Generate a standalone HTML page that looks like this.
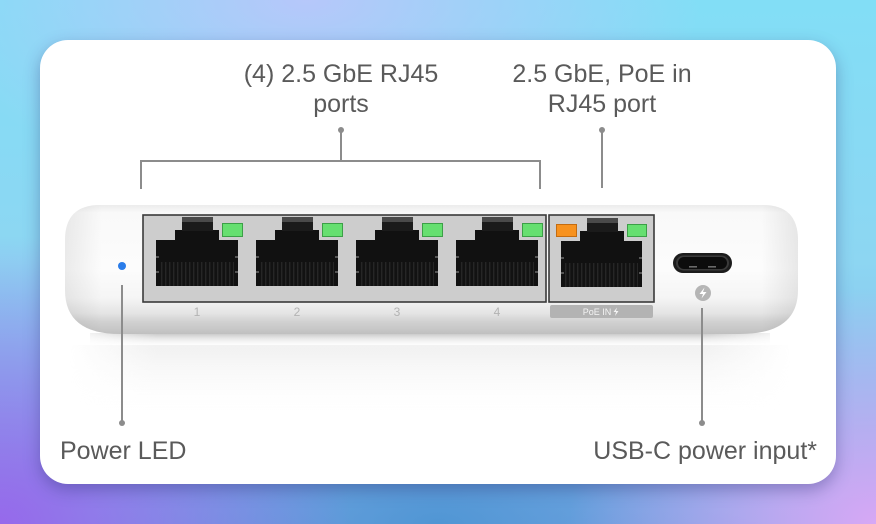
<!DOCTYPE html>
<html>
<head>
<meta charset="utf-8">
<style>
  html,body{margin:0;padding:0;}
  body{
    width:876px;height:524px;overflow:hidden;position:relative;
    background:
      radial-gradient(ellipse 45% 35% at 35% 0%, rgba(185,198,250,0.95), rgba(185,198,250,0) 100%),
      radial-gradient(ellipse 40% 55% at 0% 100%, rgba(150,105,235,1), rgba(150,105,235,0) 100%),
      radial-gradient(ellipse 35% 45% at 100% 100%, rgba(215,168,245,1), rgba(215,168,245,0) 100%),
      radial-gradient(ellipse 40% 30% at 50% 100%, rgba(80,150,212,1), rgba(80,150,212,0) 100%),
      linear-gradient(180deg, #82def6 0%, #8dd6f2 50%, #7fa8e6 100%);
  }
  .card{
    position:absolute;left:40px;top:40px;width:796px;height:444px;
    background:#fff;border-radius:28px;
    box-shadow:0 6px 16px rgba(40,40,110,0.35);
  }
  svg{position:absolute;left:0;top:0;}
  .lbl{font-family:"Liberation Sans",sans-serif;font-size:25px;fill:#5a5a5a;}
</style>
</head>
<body>
<div class="card"></div>
<svg width="876" height="524" viewBox="0 0 876 524" xmlns="http://www.w3.org/2000/svg">
  <defs>
    <linearGradient id="bodyG" gradientUnits="userSpaceOnUse" x1="0" y1="205" x2="0" y2="334">
      <stop offset="0" stop-color="#ececec"/>
      <stop offset="0.06" stop-color="#f9f9f9"/>
      <stop offset="0.5" stop-color="#fcfcfc"/>
      <stop offset="0.72" stop-color="#f5f5f5"/>
      <stop offset="0.84" stop-color="#e4e4e4"/>
      <stop offset="0.9" stop-color="#d2d2d2"/>
      <stop offset="1" stop-color="#c0c0c0"/>
    </linearGradient>
    <linearGradient id="sideG" gradientUnits="userSpaceOnUse" x1="65" y1="0" x2="798" y2="0">
      <stop offset="0" stop-color="#000" stop-opacity="0.07"/>
      <stop offset="0.05" stop-color="#000" stop-opacity="0"/>
      <stop offset="0.95" stop-color="#000" stop-opacity="0"/>
      <stop offset="1" stop-color="#000" stop-opacity="0.08"/>
    </linearGradient>
    <linearGradient id="shadG" gradientUnits="userSpaceOnUse" x1="0" y1="333" x2="0" y2="348">
      <stop offset="0" stop-color="#c4c4c4"/>
      <stop offset="1" stop-color="#ffffff" stop-opacity="0"/>
    </linearGradient>
    <linearGradient id="reflG" gradientUnits="userSpaceOnUse" x1="0" y1="345" x2="0" y2="420">
      <stop offset="0" stop-color="#f0f0f0"/>
      <stop offset="1" stop-color="#ffffff" stop-opacity="0"/>
    </linearGradient>
    <linearGradient id="fadeX" gradientUnits="userSpaceOnUse" x1="70" y1="0" x2="790" y2="0">
      <stop offset="0" stop-color="#fff" stop-opacity="0"/>
      <stop offset="0.12" stop-color="#fff" stop-opacity="1"/>
      <stop offset="0.88" stop-color="#fff" stop-opacity="1"/>
      <stop offset="1" stop-color="#fff" stop-opacity="0"/>
    </linearGradient>
    <mask id="fadeMask" maskUnits="userSpaceOnUse" x="0" y="0" width="876" height="524">
      <rect x="70" y="330" width="720" height="100" fill="url(#fadeX)"/>
    </mask>
    <pattern id="pins" patternUnits="userSpaceOnUse" width="4" height="30">
      <rect x="0" y="0" width="4" height="30" fill="#121212"/>
      <rect x="1" y="0" width="1.4" height="30" fill="#262626"/>
    </pattern>
  </defs>

  <!-- reflection / shadow -->
  <g mask="url(#fadeMask)">
    <rect x="70" y="345" width="720" height="75" fill="url(#reflG)"/>
    <rect x="90" y="333" width="680" height="15" fill="url(#shadG)"/>
  </g>

  <!-- device body -->
  <path d="M100,205 L763,205 Q798,205 798,240 L798,290 Q798,334 740,334 L120,334 Q65,334 65,290 L65,240 Q65,205 100,205 Z" fill="url(#bodyG)"/>
  <path d="M100,205 L763,205 Q798,205 798,240 L798,290 Q798,334 740,334 L120,334 Q65,334 65,290 L65,240 Q65,205 100,205 Z" fill="url(#sideG)"/>

  <!-- port panels -->
  <rect x="143" y="215" width="403" height="87" fill="#cdcdcd" stroke="#3a3a3a" stroke-width="1.6"/>
  <rect x="549" y="215" width="105" height="87" fill="#cdcdcd" stroke="#3a3a3a" stroke-width="1.6"/>

  <!-- jacks -->
  <g>
    <rect x="156" y="240" width="82" height="46" fill="#111"/>
    <rect x="160" y="262" width="74" height="24" fill="url(#pins)"/>
    <rect x="175" y="230" width="44" height="11" fill="#111"/>
    <rect x="182" y="217" width="31" height="14" fill="#1b1b1b"/>
    <rect x="182" y="217" width="31" height="5" fill="#4a4a4a"/>
    <rect x="222.5" y="223.5" width="20" height="13" fill="#66df70" stroke="#3c9f47" stroke-width="1"/>
    <rect x="156" y="256" width="3" height="2" fill="#555"/><rect x="235" y="256" width="3" height="2" fill="#555"/>
    <rect x="156" y="271" width="3" height="2" fill="#555"/><rect x="235" y="271" width="3" height="2" fill="#555"/>

    <rect x="256" y="240" width="82" height="46" fill="#111"/>
    <rect x="260" y="262" width="74" height="24" fill="url(#pins)"/>
    <rect x="275" y="230" width="44" height="11" fill="#111"/>
    <rect x="282" y="217" width="31" height="14" fill="#1b1b1b"/>
    <rect x="282" y="217" width="31" height="5" fill="#4a4a4a"/>
    <rect x="322.5" y="223.5" width="20" height="13" fill="#66df70" stroke="#3c9f47" stroke-width="1"/>
    <rect x="256" y="256" width="3" height="2" fill="#555"/><rect x="335" y="256" width="3" height="2" fill="#555"/>
    <rect x="256" y="271" width="3" height="2" fill="#555"/><rect x="335" y="271" width="3" height="2" fill="#555"/>

    <rect x="356" y="240" width="82" height="46" fill="#111"/>
    <rect x="360" y="262" width="74" height="24" fill="url(#pins)"/>
    <rect x="375" y="230" width="44" height="11" fill="#111"/>
    <rect x="382" y="217" width="31" height="14" fill="#1b1b1b"/>
    <rect x="382" y="217" width="31" height="5" fill="#4a4a4a"/>
    <rect x="422.5" y="223.5" width="20" height="13" fill="#66df70" stroke="#3c9f47" stroke-width="1"/>
    <rect x="356" y="256" width="3" height="2" fill="#555"/><rect x="435" y="256" width="3" height="2" fill="#555"/>
    <rect x="356" y="271" width="3" height="2" fill="#555"/><rect x="435" y="271" width="3" height="2" fill="#555"/>

    <rect x="456" y="240" width="82" height="46" fill="#111"/>
    <rect x="460" y="262" width="74" height="24" fill="url(#pins)"/>
    <rect x="475" y="230" width="44" height="11" fill="#111"/>
    <rect x="482" y="217" width="31" height="14" fill="#1b1b1b"/>
    <rect x="482" y="217" width="31" height="5" fill="#4a4a4a"/>
    <rect x="522.5" y="223.5" width="20" height="13" fill="#66df70" stroke="#3c9f47" stroke-width="1"/>
    <rect x="456" y="256" width="3" height="2" fill="#555"/><rect x="535" y="256" width="3" height="2" fill="#555"/>
    <rect x="456" y="271" width="3" height="2" fill="#555"/><rect x="535" y="271" width="3" height="2" fill="#555"/>

    <rect x="561" y="241" width="81" height="46" fill="#111"/>
    <rect x="565" y="263" width="73" height="24" fill="url(#pins)"/>
    <rect x="580" y="231" width="44" height="11" fill="#111"/>
    <rect x="587" y="218" width="31" height="14" fill="#1b1b1b"/>
    <rect x="587" y="218" width="31" height="5" fill="#4a4a4a"/>
    <rect x="556.5" y="224.5" width="20" height="12" fill="#f7921f" stroke="#c46c10" stroke-width="1"/>
    <rect x="627.5" y="224.5" width="19" height="12" fill="#66df70" stroke="#3c9f47" stroke-width="1"/>
    <rect x="561" y="257" width="3" height="2" fill="#555"/><rect x="639" y="257" width="3" height="2" fill="#555"/>
    <rect x="561" y="272" width="3" height="2" fill="#555"/><rect x="639" y="272" width="3" height="2" fill="#555"/>
  </g>

  <!-- port numbers -->
  <g font-family="Liberation Sans, sans-serif" font-size="12" fill="#b3b3b3" text-anchor="middle">
    <text x="197" y="316">1</text>
    <text x="297" y="316">2</text>
    <text x="397" y="316">3</text>
    <text x="497" y="316">4</text>
  </g>
  <rect x="550" y="305" width="103" height="13" rx="2" fill="#b3b3b3"/>
  <text x="597" y="315" font-family="Liberation Sans, sans-serif" font-size="9" fill="#f4f4f4" text-anchor="middle">PoE IN</text>
  <path d="M617,307.5 L613.5,312 L616,312 L615,316 L618.5,311 L616,311 Z" fill="#f4f4f4"/>

  <!-- USB-C -->
  <rect x="673" y="253" width="59" height="20" rx="10" fill="#1c1c1c"/>
  <rect x="676" y="255.5" width="53" height="15" rx="7.5" fill="#3a3a3a"/>
  <rect x="678" y="257" width="49" height="12" rx="6" fill="#0c0c0c"/>
  <rect x="689" y="266" width="8" height="1.6" fill="#6a6a6a"/>
  <rect x="708" y="266" width="8" height="1.6" fill="#6a6a6a"/>

  <!-- lightning icon -->
  <circle cx="703" cy="293" r="8" fill="#b5b5b5"/>
  <path d="M704.5,287.5 L699.5,294 L703,294 L701.5,298.5 L706.5,292 L703,292 Z" fill="#fff"/>

  <!-- power LED -->
  <circle cx="122" cy="266" r="4" fill="#2a7ce9"/>

  <!-- connectors -->
  <g stroke="#8c8c8c" stroke-width="2" fill="none">
    <path d="M141,189 L141,161 L540,161 L540,189"/>
    <path d="M341,130 L341,161"/>
    <path d="M602,130 L602,188"/>
    <path d="M122,285 L122,423"/>
    <path d="M702,308 L702,423"/>
  </g>
  <g fill="#8c8c8c">
    <circle cx="341" cy="130" r="3"/>
    <circle cx="602" cy="130" r="3"/>
    <circle cx="122" cy="423" r="3"/>
    <circle cx="702" cy="423" r="3"/>
  </g>

  <!-- labels -->
  <text class="lbl" x="341" y="82" text-anchor="middle">(4) 2.5 GbE RJ45</text>
  <text class="lbl" x="341" y="112" text-anchor="middle">ports</text>
  <text class="lbl" x="602" y="82" text-anchor="middle">2.5 GbE, PoE in</text>
  <text class="lbl" x="602" y="112" text-anchor="middle">RJ45 port</text>
  <text class="lbl" x="60" y="459">Power LED</text>
  <text class="lbl" x="817" y="459" text-anchor="end">USB-C power input*</text>
</svg>
</body>
</html>
